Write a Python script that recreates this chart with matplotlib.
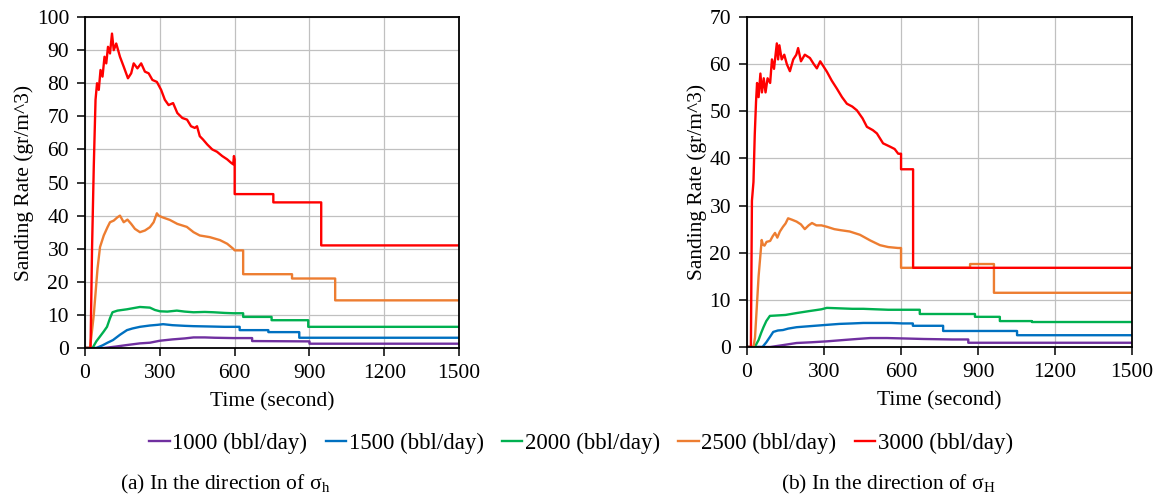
import matplotlib.pyplot as plt

plt.rcParams['font.family'] = ['Liberation Serif', 'DejaVu Serif']
plt.rcParams['mathtext.fontset'] = 'custom'
plt.rcParams['mathtext.rm'] = 'Liberation Serif'

labels = ['1000 (bbl/day)', '1500 (bbl/day)', '2000 (bbl/day)', '2500 (bbl/day)', '3000 (bbl/day)']
colors = ['#7030A0', '#0070C0', '#00B050', '#ED7D31', '#FF0000']

# (a) direction of sigma_h
a_purple_t = [0, 75, 120, 168, 220, 260, 300, 350, 400, 435, 480, 520, 594, 670, 670, 900, 900, 1500]
a_purple_v = [0, 0, 0.4, 0.9, 1.4, 1.6, 2.2, 2.6, 2.9, 3.2, 3.2, 3.1, 3.0, 3.0, 2.1, 2.0, 1.3, 1.3]

a_blue_t = [0, 45, 70, 90, 112, 140, 168, 190, 220, 260, 290, 313, 350, 400, 435, 500, 560, 594,
            620, 620, 735, 735, 859, 859, 1500]
a_blue_v = [0, 0, 0.8, 1.6, 2.4, 4, 5.4, 5.9, 6.4, 6.8, 7.0, 7.2, 6.9, 6.7, 6.6, 6.5, 6.4, 6.4,
            6.4, 5.4, 5.4, 4.8, 4.8, 3.1, 3.1]

a_green_t = [0, 30, 45, 60, 75, 88, 100, 110, 130, 168, 220, 260, 280, 300, 330, 368, 400, 435,
             480, 515, 560, 594, 634, 634, 748, 748, 895, 895, 1500]
a_green_v = [0, 0, 2, 3.5, 5, 6.4, 9, 10.8, 11.3, 11.7, 12.4, 12.2, 11.5, 11.1, 11, 11.3, 11, 10.8,
             10.9, 10.8, 10.6, 10.5, 10.5, 9.4, 9.4, 8.4, 8.4, 6.4, 6.4]

a_orange_t = [0, 20, 35, 50, 60, 75, 90, 100, 115, 130, 140, 155, 170, 185, 200, 220, 240, 260,
              275, 288, 295, 310, 340, 370, 408, 435, 460, 500, 541, 570, 594, 600, 634, 634,
              830, 830, 1003, 1003, 1500]
a_orange_v = [0, 0, 10, 24, 30.5, 34, 36.5, 38, 38.5, 39.5, 40, 38, 38.8, 37.5, 36, 35, 35.5, 36.5,
              38, 40.7, 40, 39.5, 38.7, 37.5, 36.6, 35, 34, 33.5, 32.6, 31.5, 30, 29.5, 29.5, 22.3,
              22.3, 21, 21, 14.4, 14.4]

a_red_t = [0, 22, 28, 35, 42, 48, 55, 62, 70, 78, 85, 92, 100, 108, 115, 125, 140, 155, 172, 185,
           195, 210, 225, 240, 255, 270, 288, 305, 320, 335, 353, 370, 390, 409, 425, 440, 449,
           460, 473, 490, 510, 529, 550, 570, 585, 594, 597, 600, 600, 755, 755, 947, 947, 1500]
a_red_v = [0, 0, 30, 55, 75, 80, 78, 84, 82, 88, 86, 91, 89, 95, 90, 92, 88, 85, 81.5, 83,
           86, 84.5, 86, 83.5, 83, 81, 80.4, 78, 75, 73.4, 74, 71, 69.5, 69, 67, 66.5, 67,
           64, 63, 61.5, 60, 59.3, 58, 57, 56, 55.5, 58, 57, 46.5, 46.5, 44, 44, 31, 31]

# (b) direction of sigma_H
b_purple_t = [0, 90, 140, 193, 250, 311, 380, 428, 480, 545, 620, 688, 800, 862, 862, 1500]
b_purple_v = [0, 0, 0.4, 0.85, 1.0, 1.2, 1.5, 1.7, 1.9, 1.9, 1.8, 1.7, 1.6, 1.6, 0.9, 0.9]

b_blue_t = [0, 60, 75, 90, 102, 120, 140, 160, 193, 240, 311, 360, 410, 453, 500, 560, 607,
            646, 646, 764, 764, 1052, 1052, 1500]
b_blue_v = [0, 0, 1, 2.2, 3.2, 3.5, 3.6, 3.9, 4.2, 4.4, 4.7, 4.9, 5.0, 5.1, 5.1, 5.1, 5.0,
            5.0, 4.5, 4.5, 3.4, 3.4, 2.5, 2.5]

b_green_t = [0, 30, 45, 55, 64, 75, 89, 120, 150, 193, 240, 290, 311, 360, 410, 453, 500, 550,
             595, 673, 673, 888, 888, 985, 985, 1110, 1110, 1500]
b_green_v = [0, 0, 1.5, 3, 4.2, 5.5, 6.6, 6.7, 6.8, 7.2, 7.6, 8.0, 8.3, 8.2, 8.1, 8.1, 8.0, 7.9,
             7.9, 7.9, 7.0, 7.0, 6.4, 6.4, 5.5, 5.5, 5.3, 5.3]

b_orange_t = [0, 25, 31, 45, 57, 62, 68, 76, 90, 100, 109, 118, 128, 140, 150, 160, 175, 193,
              210, 225, 240, 253, 270, 290, 311, 340, 362, 400, 440, 480, 518, 550, 588, 598,
              600, 600, 869, 869, 962, 962, 1500]
b_orange_v = [0, 0, 2, 15, 22.7, 21.7, 21.5, 22.3, 22.5, 23.5, 24.2, 23.2, 24.5, 25.5, 26.2,
              27.3, 27, 26.6, 26, 25, 25.8, 26.3, 25.8, 25.8, 25.5, 25, 24.8, 24.5, 23.8, 22.6,
              21.6, 21.2, 21, 21, 21, 16.8, 16.8, 17.6, 17.6, 11.5, 11.5]

b_red_t = [0, 15, 19, 25, 30, 35, 39, 45, 52, 58, 65, 72, 80, 90, 97, 105, 116, 121, 126, 135,
           145, 155, 167, 180, 192, 199, 210, 225, 245, 260, 272, 285, 298, 311, 330, 350, 370,
           389, 410, 428, 450, 467, 490, 506, 530, 557, 575, 589, 597, 600, 600, 647, 647, 1500]
b_red_v = [0, 0, 31, 35, 45, 52, 56, 53, 58, 54, 57, 54, 57, 56, 61, 59, 64.4, 61, 64, 61,
           62, 60, 58.5, 61, 62, 63.4, 60.6, 62, 61.3, 60, 59.1, 60.6, 59.5, 58.4, 56.5, 54.8, 53,
           51.6, 51, 50.2, 48.5, 46.7, 46, 45.3, 43.2, 42.5, 42, 41, 41, 41, 37.7, 37.7, 16.8, 16.8]

panel_a = [(a_purple_t, a_purple_v), (a_blue_t, a_blue_v), (a_green_t, a_green_v),
           (a_orange_t, a_orange_v), (a_red_t, a_red_v)]
panel_b = [(b_purple_t, b_purple_v), (b_blue_t, b_blue_v), (b_green_t, b_green_v),
           (b_orange_t, b_orange_v), (b_red_t, b_red_v)]

fs = 15.5

fig = plt.figure(figsize=(11.62, 5.04), dpi=100)
ax1 = fig.add_axes([0.0732, 0.3095, 0.3219, 0.6567])
ax2 = fig.add_axes([0.6429, 0.3115, 0.3313, 0.6548])

for ax, panel, ymax, ystep in [(ax1, panel_a, 100, 10), (ax2, panel_b, 70, 10)]:
    for (t, v), c, lab in zip(panel, colors, labels):
        ax.plot(t, v, color=c, lw=1.7, label=lab)
    ax.set_xlim(0, 1500)
    ax.set_ylim(0, ymax)
    ax.set_xticks(range(0, 1501, 300))
    ax.set_yticks(range(0, ymax + 1, ystep))
    ax.grid(True, color='#c0c0c0', lw=0.9)
    ax.set_axisbelow(True)
    for s in ax.spines.values():
        s.set_linewidth(1.3)
    ax.tick_params(direction='out', length=5.5, width=1.1, labelsize=fs, pad=6)
    ax.set_xlabel('Time (second)', fontsize=fs, labelpad=7)
    ax.set_ylabel('Sanding Rate (gr/m^3)', fontsize=fs, labelpad=2)

# one shared legend under both panels
handles, labs = ax1.get_legend_handles_labels()
fig.legend(handles, labs, loc='center', bbox_to_anchor=(0.5, 0.121), ncol=5, frameon=False,
           fontsize=16.5, handlelength=0.9, handletextpad=0.1, columnspacing=0.8)

fig.text(0.103, 0.038, r'(a) In the direction of σ$_{\mathrm{h}}$', fontsize=fs, va='center')
fig.text(0.672, 0.038, r'(b) In the direction of σ$_{\mathrm{H}}$', fontsize=fs, va='center')

fig.savefig('out.png', dpi=100)
